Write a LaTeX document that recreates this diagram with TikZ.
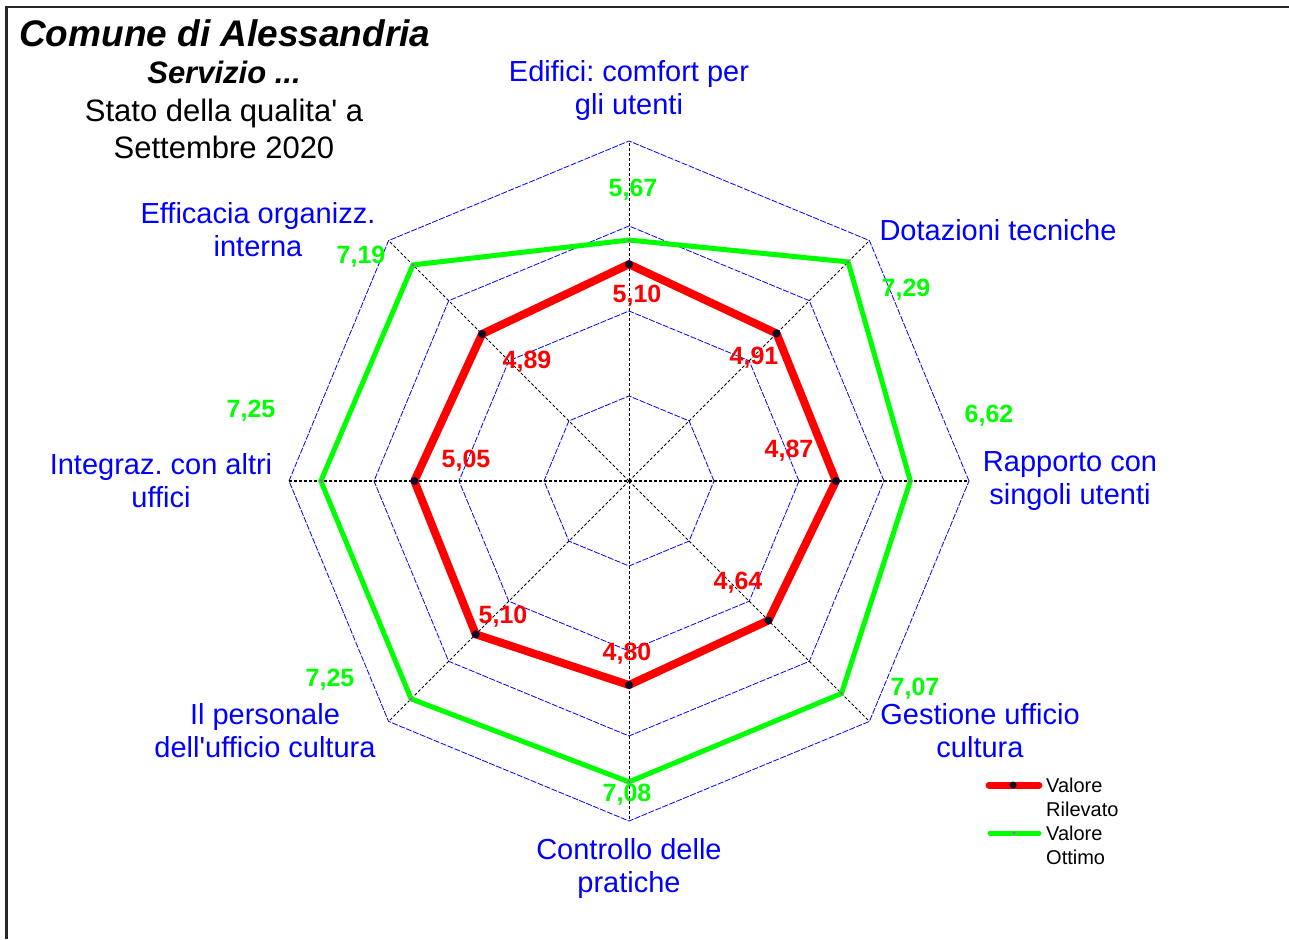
\documentclass[tikz,border=0pt]{standalone}
\usepackage{fontspec}
\setmainfont{Liberation Sans}[Ligatures=TeXOff]
\definecolor{axblue}{RGB}{0,0,255}
\definecolor{okgreen}{RGB}{0,255,0}
\definecolor{rvred}{RGB}{255,0,0}
\definecolor{dotblack}{RGB}{10,10,40}
\definecolor{dotmag}{RGB}{220,60,220}
\tikzset{
  ring/.style={draw=axblue, line width=0.8pt, dash pattern=on 6pt off 1.5pt},
  spoke/.style={draw=black, line width=0.8pt, dash pattern=on 3pt off 2pt},
  axlabel/.style={text=axblue, font=\fontsize{29}{33}\selectfont, align=center, inner sep=0pt},
  gval/.style={text=okgreen, font=\fontsize{25}{30}\selectfont\bfseries, inner sep=0pt},
  rval/.style={text=rvred, font=\fontsize{25}{30}\selectfont\bfseries, inner sep=0pt},
  redline/.style={draw=rvred, line width=8pt, line join=miter},
  greenline/.style={draw=okgreen, line width=5pt, line join=miter},
  reddot/.style={circle, fill=dotblack, inner sep=0pt, minimum size=8pt},
  greendot/.style={circle, fill=dotmag, inner sep=0pt, minimum size=3pt},
  legtext/.style={font=\fontsize{20}{24}\selectfont, align=left, inner sep=0pt, anchor=west}
}
\frenchspacing
\begin{document}
\frenchspacing
\begin{tikzpicture}[x=1pt,y=1pt]
\useasboundingbox (-629,-458) rectangle (660,481);
% frame
\coordinate (fb) at (-622.5,-458);
\coordinate (ftl) at (-622.5,474);
\coordinate (ftr) at (660,474);
\draw[line width=2.2pt, black!85] (fb) -- (ftl) -- (ftr);
% title
\node[anchor=west, inner sep=0pt, font=\fontsize{37}{40}\selectfont\bfseries\itshape] (title) at (-610,448) {Comune di Alessandria};
\node[inner sep=0pt, font=\fontsize{31}{37}\selectfont\bfseries\itshape] (serv) at (-405,409) {Servizio ...};
\node[inner sep=0pt, align=center, font=\fontsize{31}{37}\selectfont] (stato) at (-405,352.5) {Stato della qualita' a\\Settembre 2020};
% grid
\coordinate (O) at (0,0);
\foreach \r in {85,170,255,340}
  \draw[ring] (0:\r) \foreach \a in {45,90,...,315} {-- (\a:\r)} -- cycle;
\foreach \a [count=\i] in {90,45,0,-45,-90,-135,180,135}
  \coordinate (A\i) at (\a:340);
\foreach \i in {1,2,4,5,6,8}
  \draw[spoke] (O) -- (A\i);
\draw[spoke, line width=2pt] (A7) -- (A3);
% data points
\foreach \a/\v [count=\i] in {90/5.10,45/4.91,0/4.87,-45/4.64,-90/4.80,-135/5.10,180/5.05,135/4.89}
  \coordinate (r\i) at (\a:{\v*42.5});
\foreach \a/\v [count=\i] in {90/5.67,45/7.29,0/6.62,-45/7.07,-90/7.08,-135/7.25,180/7.25,135/7.19}
  \coordinate (g\i) at (\a:{\v*42.5});
\draw[greenline] (g1) -- (g2) -- (g3) -- (g4) -- (g5) -- (g6) -- (g7) -- (g8) -- cycle;
\draw[redline] (r1) -- (r2) -- (r3) -- (r4) -- (r5) -- (r6) -- (r7) -- (r8) -- cycle;
\foreach \i in {1,...,8} {
  \node[reddot] (rd\i) at (r\i) {};
  \node[greendot] (gd\i) at (g\i) {};
}
% axis labels
\node[axlabel] (L1) at (0,390) {Edifici: comfort per\\gli utenti};
\node[axlabel] (L2) at (369,251) {Dotazioni tecniche};
\node[axlabel] (L3) at (441,0) {Rapporto con\\singoli utenti};
\node[axlabel] (L4) at (351,-249.5) {Gestione ufficio\\cultura};
\node[axlabel] (L5) at (0,-387.5) {Controllo delle\\pratiche};
\node[axlabel] (L6) at (-364,-249.5) {Il personale\\dell'ufficio cultura};
\node[axlabel] (L7) at (-468,0) {Integraz. con altri\\uffici};
\node[axlabel] (L8) at (-371,251.5) {Efficacia organizz.\\interna};
% green values
\node[gval] (gv1) at (4,291) {5,67};
\node[gval] (gv2) at (277,191) {7,29};
\node[gval] (gv3) at (360,65) {6,62};
\node[gval] (gv4) at (286,-208) {7,07};
\node[gval] (gv5) at (-2,-314) {7,08};
\node[gval] (gv6) at (-299,-199) {7,25};
\node[gval] (gv7) at (-378,70) {7,25};
\node[gval] (gv8) at (-268,224) {7,19};
% red values
\node[rval] (rv1) at (8,185) {5,10};
\node[rval] (rv2) at (125,123) {4,91};
\node[rval] (rv3) at (160,30) {4,87};
\node[rval] (rv4) at (109,-102) {4,64};
\node[rval] (rv5) at (-2,-173) {4,80};
\node[rval] (rv6) at (-126,-136) {5,10};
\node[rval] (rv7) at (-163,20) {5,05};
\node[rval] (rv8) at (-102,119) {4,89};
% legend
\coordinate (lr1) at (360,-304);
\coordinate (lr2) at (410,-304);
\coordinate (lg1) at (361,-352);
\coordinate (lg2) at (410,-352);
\draw[draw=rvred, line width=7pt, line cap=round] (lr1) -- (lr2);
\node[reddot, minimum size=7pt] (lrd) at (384,-304) {};
\draw[draw=okgreen, line width=5pt, line cap=round] (lg1) -- (lg2);
\node[greendot] (lgd) at (385,-352) {};
\node[legtext] (leg1) at (417,-316) {Valore\\Rilevato};
\node[legtext] (leg2) at (417,-364) {Valore\\Ottimo};
\end{tikzpicture}
\end{document}
